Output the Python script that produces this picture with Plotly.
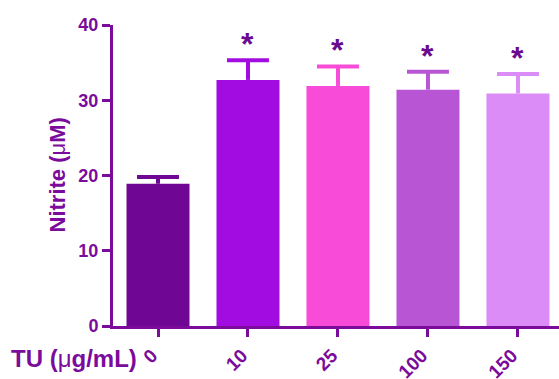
import plotly.graph_objects as go

categories = ["0", "10", "25", "100", "150"]
means = [18.9, 32.7, 31.9, 31.4, 30.9]
errors = [0.9, 2.6, 2.6, 2.4, 2.6]
colors = ["#6f0794", "#a30ce0", "#f84cd8", "#b855d5", "#db8cf6"]
stars = ["", "*", "*", "*", "*"]
y_ticks = [0, 10, 20, 30, 40]

ink = "#7a0b9b"
fnt = "Liberation Sans, Arial, sans-serif"
cap_half = 0.233  # cap half-length in category units
pos = list(range(len(categories)))

fig = go.Figure()
for p, m, e, col in zip(pos, means, errors, colors):
    fig.add_trace(go.Bar(
        x=[p], y=[m], width=0.7, marker=dict(color=col, line=dict(width=0)),
        showlegend=False, hoverinfo="skip"))
    # error bar: stem down to the bar top and a cap at the top, no lower cap
    fig.add_trace(go.Scatter(
        x=[p], y=[m + e], mode="markers", marker=dict(size=0.1, color=col),
        error_y=dict(type="data", symmetric=False, array=[0], arrayminus=[e],
                     color=col, thickness=4, width=0),
        error_x=dict(type="data", symmetric=True, array=[cap_half],
                     color=col, thickness=4, width=0),
        showlegend=False))

for p, m, e, s in zip(pos, means, errors, stars):
    if s:
        fig.add_annotation(x=p, y=m + e, text="<b>" + s + "</b>", showarrow=False, xref="x", yref="y",
                           yanchor="bottom", yshift=-4,
                           font=dict(family=fnt, size=32, color="#6a0a90"))

fig.add_annotation(x=0, y=0.5, xref="paper", yref="paper", xanchor="center", yanchor="middle",
                   xshift=-56, text="<b>Nitrite (<span style='font-weight:normal'>μ</span>M)</b>", textangle=-90,
                   showarrow=False, font=dict(family=fnt, size=22, color=ink))
fig.add_annotation(x=0, y=0, xref="paper", yref="paper", xanchor="right", yanchor="middle",
                   xshift=26, yshift=-32, text="<b>TU (<span style='font-weight:normal'>μ</span>g/mL)</b>",
                   showarrow=False, font=dict(family=fnt, size=24, color=ink))

fig.update_layout(
    width=559, height=379, barmode="overlay",
    margin=dict(l=113, r=0, t=25, b=53),
    plot_bgcolor="white", paper_bgcolor="white",
    font=dict(family=fnt, color=ink),
    xaxis=dict(range=[-0.5, 4.456], tickvals=pos, ticktext=categories, automargin=False,
               showline=True, linecolor=ink, linewidth=3,
               ticks="outside", ticklen=8, tickwidth=3, tickcolor=ink, tickangle=-45,
               ticklabelshift=-6,
               tickfont=dict(family=fnt, size=19, color=ink, weight="bold"), showgrid=False, zeroline=False),
    yaxis=dict(range=[0, 40], tickvals=y_ticks, showline=True, linecolor=ink, linewidth=3, automargin=False,
               ticks="outside", ticklen=8, tickwidth=3, tickcolor=ink,
               tickfont=dict(family=fnt, size=18, color=ink, weight="bold"), showgrid=False, zeroline=False),
)

fig.write_html("out.html")
